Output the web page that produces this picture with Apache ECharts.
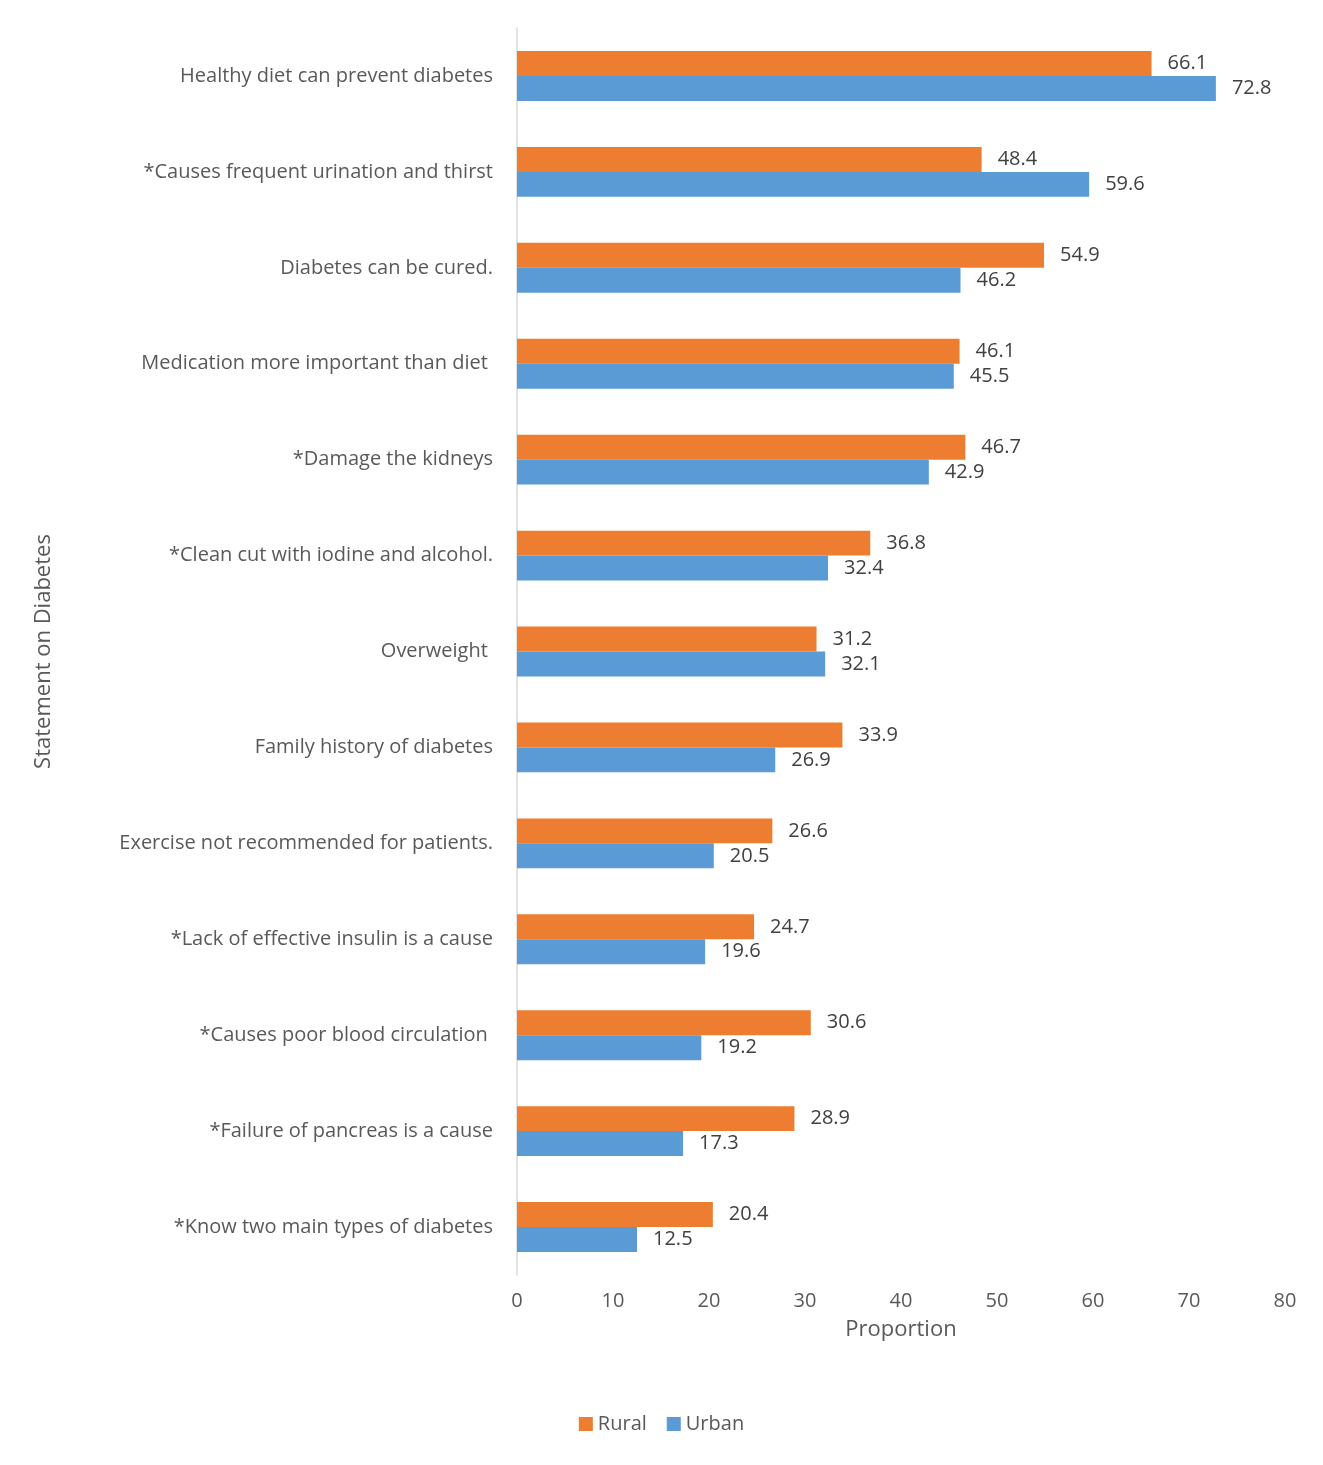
<!DOCTYPE html>
<html>
<head>
<meta charset="utf-8">
<script src="https://cdn.jsdelivr.net/npm/echarts@6/dist/echarts.min.js"></script>
<style>
  html, body { margin: 0; padding: 0; background: #fff; }
  #chart { width: 1323px; height: 1465px; }
</style>
</head>
<body>
<div id="chart"></div>
<script>
var statements = [
  'Healthy diet can prevent diabetes',
  '*Causes frequent urination and thirst',
  'Diabetes can be cured.',
  'Medication more important than diet ',
  '*Damage the kidneys',
  '*Clean cut with iodine and alcohol.',
  'Overweight ',
  'Family history of diabetes',
  'Exercise not recommended for patients.',
  '*Lack of effective insulin is a cause',
  '*Causes poor blood circulation ',
  '*Failure of pancreas is a cause',
  '*Know two main types of diabetes'
];
var rural = [66.1, 48.4, 54.9, 46.1, 46.7, 36.8, 31.2, 33.9, 26.6, 24.7, 30.6, 28.9, 20.4];
var urban = [72.8, 59.6, 46.2, 45.5, 42.9, 32.4, 32.1, 26.9, 20.5, 19.6, 19.2, 17.3, 12.5];

var font = 'Open Sans';
var chart = echarts.init(document.getElementById('chart'));
var labelStyle = {
  show: true, position: 'right', distance: 16,
  color: '#404040', fontSize: 20, fontFamily: font,
  formatter: function (p) { return p.value.toFixed(1); }
};
chart.setOption({
  animation: false,
  textStyle: { fontFamily: font },
  grid: { left: 517, right: 38, top: 28, bottom: 190 },
  legend: {
    bottom: 26, left: 'center', itemWidth: 14, itemHeight: 14, itemGap: 20,
    textStyle: { color: '#595959', fontSize: 20, fontFamily: font },
    data: [{ name: 'Rural', icon: 'rect' }, { name: 'Urban', icon: 'rect' }]
  },
  xAxis: {
    type: 'value', min: 0, max: 80, interval: 10,
    name: 'Proportion', nameLocation: 'middle', nameGap: 44,
    nameTextStyle: { color: '#595959', fontSize: 22, fontFamily: font },
    axisLine: { show: false }, axisTick: { show: false }, splitLine: { show: false },
    axisLabel: { color: '#595959', fontSize: 20, margin: 16 }
  },
  yAxis: {
    type: 'category', data: statements, inverse: true,
    name: 'Statement on Diabetes', nameLocation: 'middle', nameGap: 462,
    nameTextStyle: { color: '#595959', fontSize: 22, fontFamily: font },
    axisLine: { lineStyle: { color: '#d9d9d9', width: 1.5 } },
    axisTick: { show: false },
    axisLabel: { color: '#595959', fontSize: 20, margin: 24 }
  },
  series: [
    { name: 'Rural', type: 'bar', data: rural, barGap: '0%', barCategoryGap: '48%',
      itemStyle: { color: '#ED7D31' }, label: labelStyle },
    { name: 'Urban', type: 'bar', data: urban,
      itemStyle: { color: '#5B9BD5' }, label: labelStyle }
  ]
});
</script>
</body>
</html>
